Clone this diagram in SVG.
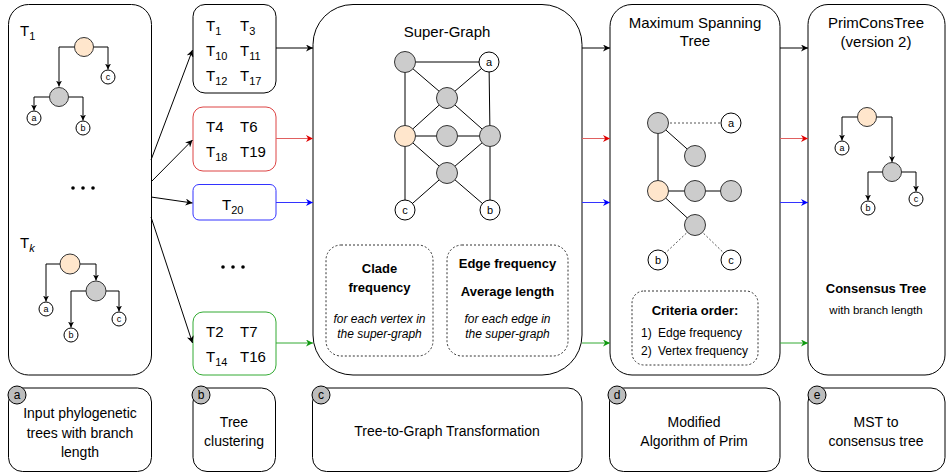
<svg xmlns="http://www.w3.org/2000/svg" width="947" height="474" viewBox="0 0 947 474">
<style>
text{font-family:"Liberation Sans",Arial,sans-serif;fill:#000}
.panel{fill:#fff;stroke:#000;stroke-width:1}
.dash{fill:#fff;stroke:#333;stroke-width:1;stroke-dasharray:2,2}
.g{fill:#cccccc;stroke:#333;stroke-width:1}
.o{fill:#ffe6cc;stroke:#333;stroke-width:1}
.w{fill:#fff;stroke:#000;stroke-width:1}
.lab{fill:#bdbdbd;stroke:#000;stroke-width:1}
.e{stroke:#000;stroke-width:1;fill:none}
.ed{stroke:#555;stroke-width:1;fill:none;stroke-dasharray:2,2}
.t15{font-size:15px}
.t14{font-size:14px}
.lf{font-size:9px;text-anchor:middle}
.c{text-anchor:middle}
.b13{font-size:13px;font-weight:bold;text-anchor:middle}
.i12{font-size:12px;font-style:italic;text-anchor:middle}
.sub{font-size:11px}
</style>
<defs>
<marker id="ak" viewBox="0 0 10 10" refX="10" refY="5" markerWidth="7" markerHeight="7" markerUnits="userSpaceOnUse" orient="auto"><path d="M0,0 L10,5 L0,10 L3,5 z" fill="#000"/></marker>
<marker id="ar" viewBox="0 0 10 10" refX="10" refY="5" markerWidth="7" markerHeight="7" markerUnits="userSpaceOnUse" orient="auto"><path d="M0,0 L10,5 L0,10 L3,5 z" fill="#e00000"/></marker>
<marker id="ab" viewBox="0 0 10 10" refX="10" refY="5" markerWidth="7" markerHeight="7" markerUnits="userSpaceOnUse" orient="auto"><path d="M0,0 L10,5 L0,10 L3,5 z" fill="#0000ff"/></marker>
<marker id="ag" viewBox="0 0 10 10" refX="10" refY="5" markerWidth="7" markerHeight="7" markerUnits="userSpaceOnUse" orient="auto"><path d="M0,0 L10,5 L0,10 L3,5 z" fill="#109910"/></marker>
<marker id="as" viewBox="0 0 10 10" refX="10" refY="5" markerWidth="6" markerHeight="6" markerUnits="userSpaceOnUse" orient="auto"><path d="M0,0 L10,5 L0,10 L3,5 z" fill="#000"/></marker>
</defs>

<!-- Panel a: input trees -->
<g id="panel-a">
<rect class="panel" x="8.5" y="4.5" width="143" height="370.5" rx="20"/>
<text x="20" y="36" class="t15">T<tspan class="sub" dy="4">1</tspan></text>
<path class="e" d="M74.5,47 H59 V86.5" marker-end="url(#as)"/>
<path class="e" d="M93.5,47 H108 V69.5" marker-end="url(#as)"/>
<path class="e" d="M49.5,97 H34 V110.5" marker-end="url(#as)"/>
<path class="e" d="M68.5,97 H83 V120.5" marker-end="url(#as)"/>
<circle class="o" cx="84" cy="47" r="9.5"/>
<circle class="g" cx="59" cy="97" r="9.5"/>
<circle class="w" cx="108" cy="77" r="7"/><text x="108" y="80" class="lf">c</text>
<circle class="w" cx="34" cy="118" r="7"/><text x="34" y="121" class="lf">a</text>
<circle class="w" cx="83" cy="128" r="7"/><text x="83" y="131" class="lf">b</text>
<circle cx="73" cy="188" r="1.8"/><circle cx="83" cy="188" r="1.8"/><circle cx="93" cy="188" r="1.8"/>
<text x="20" y="248" class="t15">T<tspan class="sub" dy="4" font-style="italic">k</tspan></text>
<path class="e" d="M60,264 H46 V301.5" marker-end="url(#as)"/>
<path class="e" d="M80,264 H96 V280.5" marker-end="url(#as)"/>
<path class="e" d="M86,291 H71 V327.5" marker-end="url(#as)"/>
<path class="e" d="M106,291 H119 V311.5" marker-end="url(#as)"/>
<circle class="o" cx="70" cy="264" r="10"/>
<circle class="g" cx="96" cy="291" r="10"/>
<circle class="w" cx="46" cy="309" r="7"/><text x="46" y="312" class="lf">a</text>
<circle class="w" cx="71" cy="335" r="7"/><text x="71" y="338" class="lf">b</text>
<circle class="w" cx="119" cy="319" r="7"/><text x="119" y="322" class="lf">c</text>
</g>

<!-- Panel b: clusters -->
<g id="cluster-1">
<rect x="193" y="4.5" width="83" height="88.5" rx="12" fill="#fff" stroke="#000"/>
<text x="206" y="31" class="t15">T<tspan class="sub" dy="4">1</tspan></text>
<text x="240" y="31" class="t15">T<tspan class="sub" dy="4">3</tspan></text>
<text x="206" y="56" class="t15">T<tspan class="sub" dy="4">10</tspan></text>
<text x="240" y="56" class="t15">T<tspan class="sub" dy="4">11</tspan></text>
<text x="206" y="81" class="t15">T<tspan class="sub" dy="4">12</tspan></text>
<text x="240" y="81" class="t15">T<tspan class="sub" dy="4">17</tspan></text>
</g>
<g id="cluster-2">
<rect x="193" y="107" width="83" height="64" rx="10" fill="#fff" stroke="#dd4444"/>
<text x="206" y="132" class="t15">T4</text>
<text x="240" y="132" class="t15">T6</text>
<text x="206" y="157" class="t15">T<tspan class="sub" dy="4">18</tspan></text>
<text x="240" y="157" class="t15">T19</text>
</g>
<g id="cluster-3">
<rect x="193" y="184.5" width="83" height="35.5" rx="6" fill="#fff" stroke="#3333ff"/>
<text x="222" y="210" class="t15">T<tspan class="sub" dy="4">20</tspan></text>
</g>
<g id="cluster-dots">
<circle cx="223" cy="267" r="1.8"/><circle cx="233" cy="267" r="1.8"/><circle cx="243" cy="267" r="1.8"/>
</g>
<g id="cluster-4">
<rect x="193" y="312" width="83" height="63" rx="10" fill="#fff" stroke="#33aa33"/>
<text x="206" y="337" class="t15">T2</text>
<text x="240" y="337" class="t15">T7</text>
<text x="206" y="362" class="t15">T<tspan class="sub" dy="4">14</tspan></text>
<text x="240" y="362" class="t15">T16</text>
</g>

<!-- Panel c: super-graph -->
<g id="panel-c">
<rect class="panel" x="313" y="4.5" width="269" height="370.5" rx="40"/>
<text x="447" y="37" class="t15 c">Super-Graph</text>
<g class="e">
<line x1="405" y1="62" x2="489" y2="62"/>
<line x1="405" y1="62" x2="447" y2="98"/>
<line x1="405" y1="62" x2="405" y2="136"/>
<line x1="489" y1="62" x2="447" y2="98"/>
<line x1="489" y1="62" x2="490" y2="136"/>
<line x1="447" y1="98" x2="405" y2="136"/>
<line x1="447" y1="98" x2="490" y2="136"/>
<line x1="405" y1="136" x2="490" y2="136"/>
<line x1="405" y1="136" x2="447" y2="173"/>
<line x1="490" y1="136" x2="447" y2="173"/>
<line x1="405" y1="136" x2="405" y2="210"/>
<line x1="447" y1="173" x2="405" y2="210"/>
<line x1="447" y1="173" x2="490" y2="210"/>
<line x1="490" y1="136" x2="490" y2="210"/>
</g>
<circle class="g" cx="405" cy="62" r="10.5"/>
<circle class="w" cx="489" cy="62" r="10"/><text x="489" y="66" class="c" font-size="11px">a</text>
<circle class="g" cx="447" cy="98" r="10.5"/>
<circle class="o" cx="405" cy="136" r="10.5"/>
<circle class="g" cx="447" cy="136" r="10.5"/>
<circle class="g" cx="490" cy="136" r="10.5"/>
<circle class="g" cx="447" cy="173" r="10.5"/>
<circle class="w" cx="405" cy="210" r="10"/><text x="405" y="214" class="c" font-size="11px">c</text>
<circle class="w" cx="490" cy="210" r="10"/><text x="490" y="214" class="c" font-size="11px">b</text>
<rect class="dash" x="326" y="245" width="107" height="111" rx="15"/>
<text x="379.5" y="273" class="b13">Clade</text>
<text x="379.5" y="292" class="b13">frequency</text>
<text x="379.5" y="323" class="i12">for each vertex in</text>
<text x="379.5" y="338" class="i12">the super-graph</text>
<rect class="dash" x="447" y="245" width="121" height="111" rx="15"/>
<text x="507.5" y="268" class="b13">Edge frequency</text>
<text x="507.5" y="296" class="b13">Average length</text>
<text x="507.5" y="323" class="i12">for each edge in</text>
<text x="507.5" y="338" class="i12">the super-graph</text>
</g>

<!-- Panel d: MST -->
<g id="panel-d">
<rect class="panel" x="610" y="4.5" width="170" height="370.5" rx="22"/>
<text x="695" y="28" class="t15 c">Maximum Spanning</text>
<text x="695" y="46" class="t15 c">Tree</text>
<line class="ed" x1="658" y1="123" x2="731" y2="123"/>
<line class="e" x1="658" y1="123" x2="695" y2="156"/>
<line class="e" x1="658" y1="123" x2="658" y2="191"/>
<line class="e" x1="658" y1="191" x2="731" y2="191" stroke-width="1.5"/>
<line class="e" x1="658" y1="191" x2="695" y2="225"/>
<line class="ed" x1="695" y1="225" x2="658" y2="260"/>
<line class="ed" x1="695" y1="225" x2="731" y2="260"/>
<circle class="g" cx="658" cy="123" r="10.5"/>
<circle class="w" cx="731" cy="123" r="10"/><text x="731" y="127" class="c" font-size="11px">a</text>
<circle class="g" cx="695" cy="156" r="10.5"/>
<circle class="o" cx="658" cy="191" r="10.5"/>
<circle class="g" cx="695" cy="191" r="10.5"/>
<circle class="g" cx="731" cy="191" r="10.5"/>
<circle class="g" cx="695" cy="225" r="10.5"/>
<circle class="w" cx="658" cy="260" r="10"/><text x="658" y="264" class="c" font-size="11px">b</text>
<circle class="w" cx="731" cy="260" r="10"/><text x="731" y="264" class="c" font-size="11px">c</text>
<rect class="dash" x="632" y="291" width="126" height="74" rx="12"/>
<text x="695" y="315" class="b13">Criteria order:</text>
<text x="641" y="337" font-size="12px">1)</text><text x="658" y="337" font-size="12px">Edge frequency</text>
<text x="641" y="355" font-size="12px">2)</text><text x="658" y="355" font-size="12px">Vertex frequency</text>
</g>

<!-- Panel e: consensus tree -->
<g id="panel-e">
<rect class="panel" x="808" y="4.5" width="137" height="370.5" rx="20"/>
<text x="876" y="28" class="t15 c">PrimConsTree</text>
<text x="876" y="47" class="t15 c">(version 2)</text>
<path class="e" d="M857.5,117 H842 V140.5" marker-end="url(#as)"/>
<path class="e" d="M876.5,117 H892 V162" marker-end="url(#as)"/>
<path class="e" d="M882.5,172 H868 V200.5" marker-end="url(#as)"/>
<path class="e" d="M901.5,172 H916 V191.5" marker-end="url(#as)"/>
<circle class="o" cx="867" cy="117" r="9.5"/>
<circle class="g" cx="892" cy="172" r="9.5"/>
<circle class="w" cx="842" cy="148" r="7"/><text x="842" y="151" class="lf">a</text>
<circle class="w" cx="868" cy="208" r="7"/><text x="868" y="211" class="lf">b</text>
<circle class="w" cx="916" cy="199" r="7"/><text x="916" y="202" class="lf">c</text>
<text x="876" y="293" class="b13">Consensus Tree</text>
<text x="876" y="314" class="c" font-size="11.5px">with branch length</text>
</g>

<!-- Connectors -->
<g id="connectors" fill="none">
<line x1="151" y1="160" x2="192.5" y2="50" stroke="#000" marker-end="url(#ak)"/>
<line x1="151" y1="182" x2="192.5" y2="140" stroke="#000" marker-end="url(#ak)"/>
<line x1="151" y1="197" x2="192.5" y2="203" stroke="#000" marker-end="url(#ak)"/>
<line x1="151" y1="217" x2="192.5" y2="343" stroke="#000" marker-end="url(#ak)"/>
<line x1="276" y1="48" x2="313" y2="48" stroke="#000" marker-end="url(#ak)"/>
<line x1="276" y1="138.5" x2="313" y2="138.5" stroke="#e06060" marker-end="url(#ar)"/>
<line x1="276" y1="202.5" x2="313" y2="202.5" stroke="#3333ff" marker-end="url(#ab)"/>
<line x1="276" y1="343" x2="313" y2="343" stroke="#33aa33" marker-end="url(#ag)"/>
<line x1="582" y1="48" x2="610" y2="48" stroke="#000" marker-end="url(#ak)"/>
<line x1="582" y1="138.5" x2="610" y2="138.5" stroke="#e06060" marker-end="url(#ar)"/>
<line x1="582" y1="202.5" x2="610" y2="202.5" stroke="#3333ff" marker-end="url(#ab)"/>
<line x1="582" y1="343" x2="610" y2="343" stroke="#33aa33" marker-end="url(#ag)"/>
<line x1="780" y1="48" x2="808" y2="48" stroke="#000" marker-end="url(#ak)"/>
<line x1="780" y1="138.5" x2="808" y2="138.5" stroke="#e06060" marker-end="url(#ar)"/>
<line x1="780" y1="202.5" x2="808" y2="202.5" stroke="#3333ff" marker-end="url(#ab)"/>
<line x1="780" y1="343" x2="808" y2="343" stroke="#33aa33" marker-end="url(#ag)"/>
</g>

<!-- Bottom labels -->
<g id="step-a">
<rect class="panel" x="8.5" y="388" width="143" height="83.5" rx="14"/>
<circle class="lab" cx="17" cy="395" r="9"/><text x="17" y="399" class="c" font-size="12px">a</text>
<text x="80" y="418" class="t14 c">Input phylogenetic</text>
<text x="80" y="438" class="t14 c">trees with branch</text>
<text x="80" y="457" class="t14 c">length</text>
</g>
<g id="step-b">
<rect class="panel" x="193" y="388" width="82.5" height="83.5" rx="14"/>
<circle class="lab" cx="201" cy="395" r="9"/><text x="201" y="399" class="c" font-size="12px">b</text>
<text x="234" y="427" class="t14 c">Tree</text>
<text x="234" y="446" class="t14 c">clustering</text>
</g>
<g id="step-c">
<rect class="panel" x="312.5" y="388" width="269.5" height="83.5" rx="14"/>
<circle class="lab" cx="321" cy="395" r="9"/><text x="321" y="399" class="c" font-size="12px">c</text>
<text x="447" y="436" class="t14 c">Tree-to-Graph Transformation</text>
</g>
<g id="step-d">
<rect class="panel" x="609.5" y="388" width="170.5" height="83.5" rx="14"/>
<circle class="lab" cx="617" cy="395" r="9"/><text x="617" y="399" class="c" font-size="12px">d</text>
<text x="694" y="427" class="t14 c">Modified</text>
<text x="694" y="446" class="t14 c">Algorithm of Prim</text>
</g>
<g id="step-e">
<rect class="panel" x="808" y="388" width="137" height="83.5" rx="14"/>
<circle class="lab" cx="817" cy="395" r="9"/><text x="817" y="399" class="c" font-size="12px">e</text>
<text x="876" y="427" class="t14 c">MST to</text>
<text x="876" y="446" class="t14 c">consensus tree</text>
</g>
</svg>
